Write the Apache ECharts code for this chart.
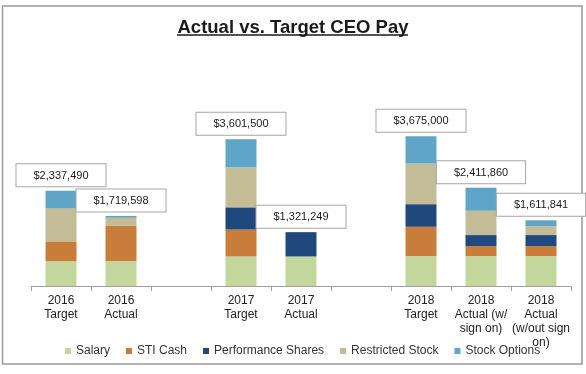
<!DOCTYPE html>
<html>
<head>
<meta charset="utf-8">
<script src="https://cdn.jsdelivr.net/npm/echarts@6/dist/echarts.min.js"></script>
<style>html,body{margin:0;padding:0;background:#fff}#c{width:586px;height:374px}</style>
</head>
<body>
<div id="c"></div>
<script>
const categories = ['2016\nTarget', '2016\nActual', '', '2017\nTarget', '2017\nActual', '', '2018\nTarget', '2018\nActual (w/\nsign on)', '2018\nActual\n(w/out sign\non)'];
const salary      = [605000, 605000, '-', 725000, 725000, '-', 735000, 735000, 735000];
const stiCash     = [490000, 870000, '-', 660000, 0, '-', 718000, 245000, 245000];
const perfShares  = [0, 0, '-', 545000, 596249, '-', 556000, 270000, 270000];
const restricted  = [810000, 200000, '-', 980000, 0, '-', 997000, 596000, 220000];
const options     = [432490, 44598, '-', 691500, 0, '-', 669000, 565860, 141841];
const totals      = [2337490, 1719598, '-', 3601500, 1321249, '-', 3675000, 2411860, 1611841];
const seriesNames = ['Salary', 'STI Cash', 'Performance Shares', 'Restricted Stock', 'Stock Options'];
const colors = ['#c3d69b', '#c97d3a', '#1f497d', '#c4bc96', '#5ea5c8'];

const chart = echarts.init(document.getElementById('c'), null, {renderer: 'canvas'});
const font = 'Liberation Sans, Arial, sans-serif';
const barData = [salary, stiCash, perfShares, restricted, options];
const series = barData.map((d, i) => ({
  name: seriesNames[i],
  type: 'bar',
  stack: 'pay',
  barWidth: 31,
  itemStyle: {color: colors[i]},
  data: d
}));
series.push({
  name: 'Total',
  type: 'line',
  data: totals,
  symbol: 'circle',
  symbolSize: 1,
  itemStyle: {color: 'transparent'},
  lineStyle: {width: 0, opacity: 0},
  z: 10,
  label: {
    show: true,
    position: 'top',
    distance: 4,
    backgroundColor: '#fff',
    borderColor: '#a6a6a6',
    borderWidth: 1,
    padding: [6, 17, 5, 17],
    fontSize: 11,
    fontFamily: font,
    color: '#1a1a1a',
    formatter: p => '$' + Number(p.value).toLocaleString('en-US')
  }
});

chart.setOption({
  animation: false,
  textStyle: {fontFamily: font},
  color: colors,
  title: {
    text: 'Actual vs. Target CEO Pay',
    left: 'center',
    top: 13,
    textStyle: {fontSize: 18.5, fontWeight: 'bold', color: '#1a1a1a', fontFamily: font}
  },
  graphic: [
    {type: 'rect', shape: {x: 2.5, y: 6, width: 579.5, height: 358}, style: {fill: 'none', stroke: '#9a9a9a', lineWidth: 1.5}, silent: true},
    {type: 'line', shape: {x1: 177, y1: 35, x2: 408, y2: 35}, style: {stroke: '#1a1a1a', lineWidth: 1.6}, silent: true}
  ],
  legend: {
    data: seriesNames,
    left: 60,
    top: 340,
    icon: 'rect',
    itemWidth: 6,
    itemHeight: 6,
    itemGap: 16,
    textStyle: {fontSize: 12, color: '#333', fontFamily: font}
  },
  grid: {left: 31, right: 15, top: 123, bottom: 88},
  xAxis: {
    type: 'category',
    data: categories,
    axisLine: {lineStyle: {color: '#a0a0a0', width: 1}},
    axisTick: {show: true, length: 5, lineStyle: {color: '#a0a0a0'}},
    axisLabel: {interval: 0, fontSize: 12, lineHeight: 14, color: '#222', margin: 8, fontFamily: font}
  },
  yAxis: {
    type: 'value',
    min: 0,
    max: 4000000,
    show: false,
    splitLine: {show: false}
  },
  series: series
});
</script>
</body>
</html>
